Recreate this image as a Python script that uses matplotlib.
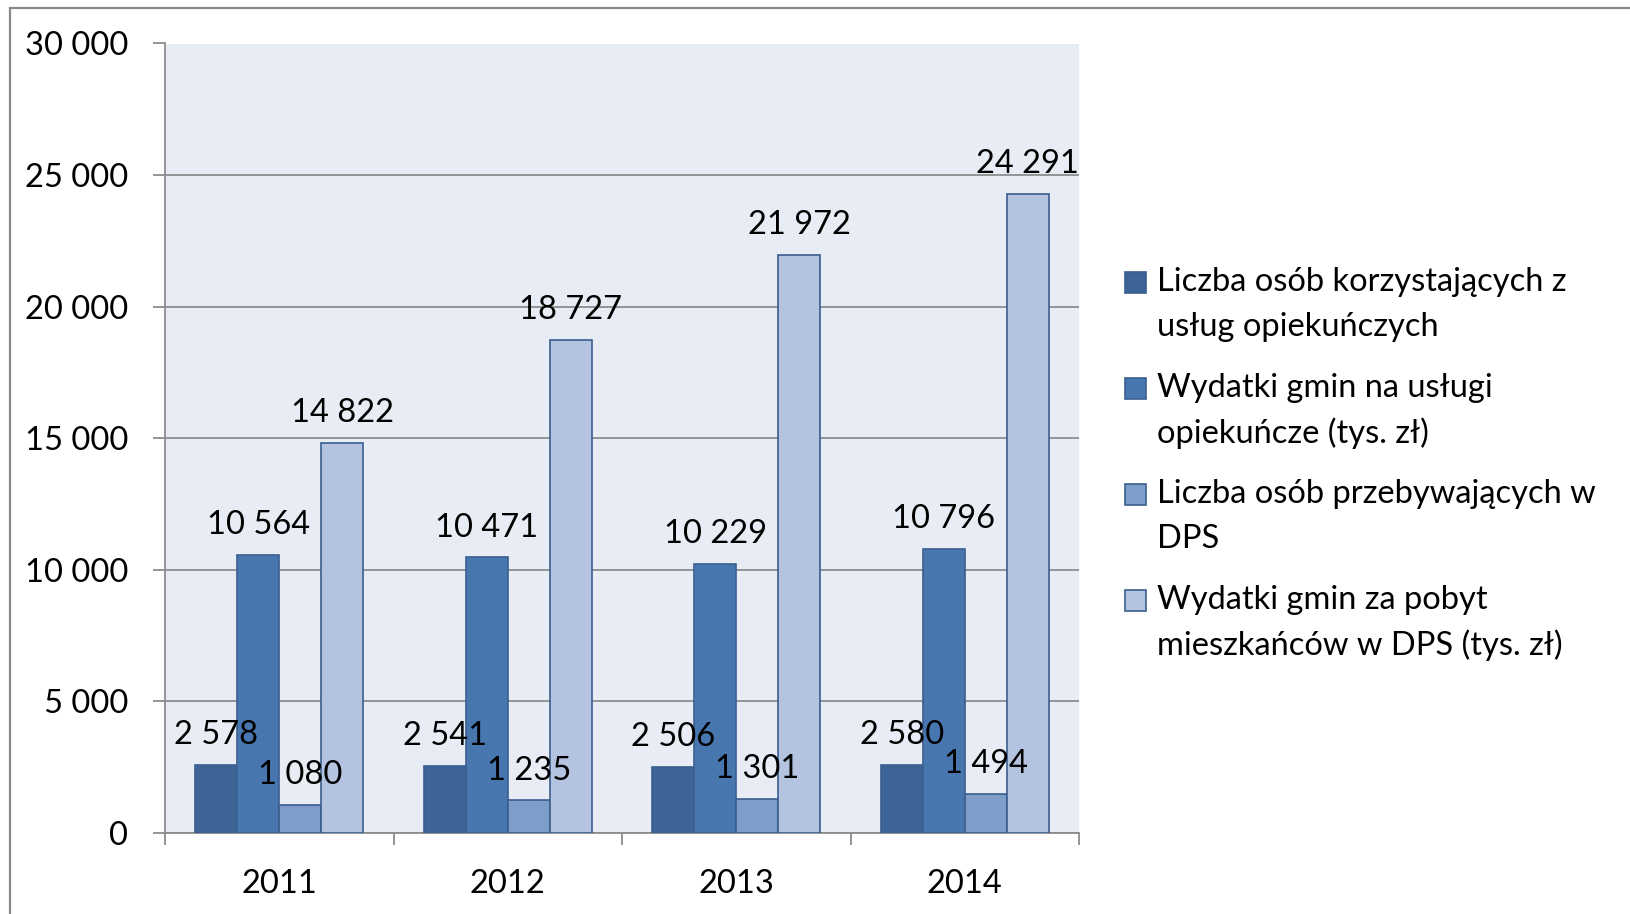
import matplotlib
matplotlib.use("Agg")
import matplotlib.pyplot as plt
from matplotlib.patches import Rectangle
import numpy as np

plt.rcParams['font.family'] = ['Lato', 'DejaVu Sans']

years = ["2011", "2012", "2013", "2014"]
series_names = [
    "Liczba osób korzystających z\nusług opiekuńczych",
    "Wydatki gmin na usługi\nopiekuńcze (tys. zł)",
    "Liczba osób przebywających w\nDPS",
    "Wydatki gmin za pobyt\nmieszkańców w DPS (tys. zł)",
]
s1 = [2578, 2541, 2506, 2580]
s2 = [10564, 10471, 10229, 10796]
s3 = [1080, 1235, 1301, 1494]
s4 = [14822, 18727, 21972, 24291]
series = [s1, s2, s3, s4]
yticks = [0, 5000, 10000, 15000, 20000, 25000, 30000]

colors = ["#3C6496", "#4877B0", "#7F9DC9", "#B4C3DF"]
edge = "#3A5F8E"
grid_c = "#8C8C8C"
FS = 23.5

W, H = 1630, 914
fig = plt.figure(figsize=(W / 100, H / 100), dpi=100)

def fx(px):
    return px / W

def fy(py):
    return 1 - py / H

ax = fig.add_axes([fx(165), fy(833), fx(1079) - fx(165), fy(43.5) - fy(833)])
ax.set_facecolor("#E8ECF4")

x = np.arange(len(years))
w = 0.184
fmt = lambda v: f"{v:,}".replace(",", " ")
for i, vals in enumerate(series):
    xs = x + (i - 1.5) * w
    ax.bar(xs, vals, width=w, color=colors[i], edgecolor=edge, linewidth=1.2, zorder=3)
    for xi, v in zip(xs, vals):
        ax.annotate(fmt(v), (xi, v), xytext=(0, 15), textcoords="offset points",
                    ha="center", va="baseline", fontsize=FS, zorder=5)

ax.set_xlim(-0.5, len(years) - 0.5)
ax.set_ylim(0, 30000)
ax.set_yticks(yticks)
ax.set_yticklabels([fmt(t) for t in yticks], fontsize=FS)
ax.yaxis.grid(True, color=grid_c, linewidth=1.3, zorder=1)
ax.set_axisbelow(True)

ax.set_xticks(x)
ax.set_xticklabels(years, fontsize=FS)
ax.set_xticks(np.arange(-0.5, len(years)), minor=True)
ax.tick_params(axis="x", which="major", length=0, pad=26)
ax.tick_params(axis="x", which="minor", length=8.5, width=1.3, color=grid_c, direction="out")
ax.tick_params(axis="y", length=8.5, width=1.3, color=grid_c, pad=18)

for s in ["top", "right"]:
    ax.spines[s].set_visible(False)
for s in ["left", "bottom"]:
    ax.spines[s].set_color(grid_c)
    ax.spines[s].set_linewidth(1.3)

# outer frame
fig.patches.append(Rectangle((fx(10), fy(960)), fx(1700), fy(8) - fy(960),
                             transform=fig.transFigure, fill=False,
                             edgecolor="#8A8A8A", linewidth=1.6, zorder=0))

# legend
for i, name in enumerate(series_names):
    y0 = 282 + i * 106
    fig.patches.append(Rectangle((fx(1125), fy(y0 + 10.5)), fx(21), fy(0) - fy(21),
                                 transform=fig.transFigure, facecolor=colors[i],
                                 edgecolor=edge, linewidth=1.2))
    for j, line in enumerate(name.split("\n")):
        fig.text(fx(1157), fy(y0 + j * 45.5), line, fontsize=FS, ha="left", va="center")

fig.savefig("out.png", dpi=100)
